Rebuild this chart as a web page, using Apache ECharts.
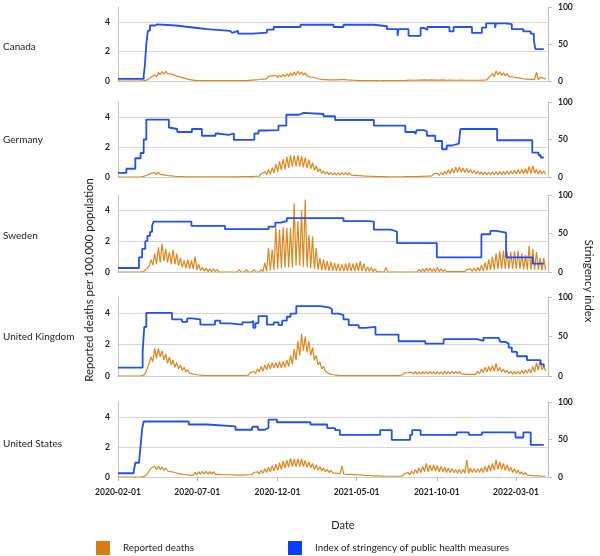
<!DOCTYPE html>
<html><head><meta charset="utf-8">
<script src="https://cdn.jsdelivr.net/npm/echarts@6/dist/echarts.min.js"></script>
<style>html,body{margin:0;padding:0;background:#fff}#chart{width:600px;height:556px}</style>
</head><body><div id="chart"></div><script>
// ---------- DATA ----------
const countries = ['Canada', 'Germany', 'Sweden', 'United Kingdom', 'United States'];
const xTickLabels = ['2020-02-01', '2020-07-01', '2020-12-01', '2021-05-01', '2021-10-01', '2022-03-01'];
const leftTickLabels = [0, 2, 4];
const rightTickLabels = [0, 50, 100];
const deathsName = 'Reported deaths';
const stringencyName = 'Index of stringency of public health measures';
const leftTitle = 'Reported deaths per 100,000 population';
const rightTitle = 'Stringency index';
const xTitle = 'Date';

// Reported deaths per 100,000: one value every 3.5 days from 2020-02-01 (weekly high / low)
const deathsCanada = [
0,0, 0,0, 0,0, 0,0, 0,0, 0,0, 0,0, 0.03,0.01, 0.07,0.03, 0.25,0.15,
0.42,0.28, 0.58,0.42, 0.63,0.47, 0.65,0.5, 0.62,0.48, 0.52,0.38, 0.4,0.3, 0.33,0.23, 0.24,0.16, 0.15,0.09,
0.1,0.06, 0.05,0.03, 0.04,0.02, 0.05,0.03, 0.04,0.02, 0.05,0.02, 0.04,0.02, 0.05,0.03, 0.04,0.02, 0.05,0.02,
0.04,0.02, 0.05,0.03, 0.05,0.02, 0.06,0.03, 0.06,0.03, 0.07,0.04, 0.1,0.06, 0.12,0.08, 0.16,0.1, 0.21,0.13,
0.25,0.15, 0.31,0.19, 0.34,0.22, 0.37,0.23, 0.4,0.26, 0.46,0.3, 0.49,0.31, 0.55,0.35, 0.6,0.4, 0.66,0.44,
0.6,0.4, 0.55,0.35, 0.43,0.27, 0.36,0.24, 0.25,0.15, 0.19,0.11, 0.15,0.09, 0.13,0.07, 0.13,0.07, 0.13,0.07,
0.15,0.09, 0.15,0.09, 0.13,0.07, 0.1,0.06, 0.09,0.05, 0.07,0.03, 0.05,0.02, 0.04,0.02, 0.04,0.02, 0.03,0.02,
0.04,0.02, 0.03,0.01, 0.04,0.02, 0.03,0.02, 0.04,0.02, 0.04,0.02, 0.05,0.03, 0.07,0.03, 0.08,0.04, 0.1,0.06,
0.11,0.05, 0.14,0.06, 0.12,0.06, 0.15,0.07, 0.13,0.06, 0.16,0.07, 0.14,0.06, 0.13,0.06, 0.15,0.07, 0.12,0.05,
0.13,0.06, 0.12,0.05, 0.11,0.05, 0.13,0.06, 0.12,0.05, 0.11,0.05, 0.12,0.05, 0.11,0.05, 0.12,0.05, 0.13,0.06,
0.15,0.07, 0.25,0.15, 0.5,0.3, 0.68,0.42, 0.62,0.38, 0.55,0.35, 0.5,0.3, 0.43,0.27, 0.37,0.23, 0.31,0.19,
0.25,0.15, 0.23,0.13, 0.19,0.11, 0.19,0.11, 0.6,0.08, 0.25,0.12, 0.2,0.1
];
const deathsGermany = [
0,0, 0,0, 0,0, 0,0, 0,0, 0,0, 0,0, 0.04,0.02, 0.13,0.07, 0.24,0.12,
0.3,0.16, 0.32,0.18, 0.27,0.14, 0.2,0.1, 0.16,0.08, 0.11,0.05, 0.07,0.03, 0.04,0.02, 0.03,0.01, 0.03,0.01,
0.03,0.01, 0.02,0.01, 0.02,0.01, 0.02,0.01, 0.02,0.01, 0.02,0.01, 0.02,0.01, 0.02,0.01, 0.02,0.01, 0.03,0.01,
0.03,0.01, 0.03,0.01, 0.03,0.01, 0.04,0.02, 0.04,0.02, 0.05,0.03, 0.07,0.03, 0.11,0.05, 0.14,0.06, 0.21,0.09,
0.35,0.15, 0.5,0.2, 0.63,0.27, 0.85,0.35, 1.05,0.45, 1.2,0.5, 1.35,0.6, 1.45,0.7, 1.45,0.7, 1.45,0.7,
1.4,0.65, 1.3,0.6, 1.15,0.55, 0.95,0.45, 0.75,0.35, 0.55,0.25, 0.4,0.2, 0.34,0.16, 0.3,0.14, 0.28,0.12,
0.28,0.12, 0.3,0.14, 0.3,0.14, 0.28,0.12, 0.25,0.11, 0.21,0.09, 0.17,0.07, 0.14,0.06, 0.11,0.05, 0.08,0.04,
0.05,0.02, 0.04,0.02, 0.04,0.02, 0.04,0.01, 0.04,0.01, 0.03,0.01, 0.03,0.01, 0.04,0.01, 0.04,0.02, 0.05,0.02,
0.05,0.02, 0.07,0.03, 0.08,0.04, 0.11,0.05, 0.14,0.06, 0.17,0.07, 0.21,0.09, 0.25,0.11, 0.3,0.14, 0.38,0.18,
0.48,0.22, 0.57,0.27, 0.65,0.31, 0.65,0.33, 0.6,0.3, 0.56,0.28, 0.5,0.26, 0.43,0.21, 0.38,0.18, 0.34,0.16,
0.32,0.14, 0.33,0.14, 0.35,0.15, 0.36,0.16, 0.36,0.16, 0.37,0.17, 0.4,0.18, 0.42,0.2, 0.45,0.21, 0.5,0.22,
0.5,0.22, 0.55,0.22, 0.7,0.22, 0.75,0.25, 0.5,0.2, 0.45,0.2, 0.4,0.18
];
const deathsSweden = [
0,0, 0,0, 0,0, 0,0, 0,0, 0,0, 0,0, 0.03,0.1, 0.25,0.4, 0.8,0.45,
1.2,0.5, 1.6,0.6, 1.85,0.7, 1.5,0.6, 1.3,0.5, 1.45,0.5, 1.2,0.4, 0.9,0.3, 0.75,0.25, 0.8,0.2,
0.75,0.2, 1.0,0.15, 0.5,0.1, 0.3,0.05, 0.25,0.03, 0.2,0.02, 0.2,0.02, 0.15,0.01, 0.1,0, 0.12,0,
0.08,0, 0.12,0, 0.1,0, 0.15,0, 0.1,0, 0.15,0, 0.12,0, 0.15,0, 0.1,0, 0.15,0.02,
0.6,0.05, 1.55,0.1, 1.45,0.15, 2.9,0.2, 2.75,0.25, 2.9,0.3, 2.85,0.3, 2.85,0.3, 4.45,0.4, 3.3,0.4,
4.0,0.35, 4.7,0.3, 2.4,0.25, 2.3,0.2, 1.55,0.15, 0.9,0.1, 0.8,0.1, 0.7,0.08, 0.65,0.08, 0.6,0.08,
0.55,0.06, 0.5,0.06, 0.55,0.06, 0.6,0.06, 0.55,0.06, 0.6,0.06, 0.7,0.05, 0.55,0.04, 0.35,0.03, 0.3,0.02,
0.2,0.02, 0.1,0.01, 0.1,0, 0.3,0, 0.05,0, 0.05,0, 0.05,0, 0.05,0, 0.05,0, 0.05,0,
0.05,0, 0.1,0, 0.15,0.02, 0.2,0.02, 0.25,0.03, 0.25,0.03, 0.2,0.03, 0.3,0.03, 0.2,0.02, 0.15,0.02,
0.12,0.02, 0.1,0.02, 0.1,0.02, 0.1,0.02, 0.12,0.02, 0.15,0.03, 0.2,0.04, 0.25,0.05, 0.3,0.06, 0.45,0.08,
0.6,0.1, 0.8,0.12, 1.0,0.15, 1.2,0.2, 1.35,0.2, 1.4,0.2, 1.35,0.2, 1.3,0.2, 1.35,0.2, 1.4,0.2,
1.2,0.15, 1.1,0.15, 1.7,0.15, 1.5,0.15, 1.3,0.15, 0.9,0.1, 0.9,0.1
];
const deathsUK = [
0,0, 0,0, 0,0, 0,0, 0,0, 0,0, 0,0, 0.05,0.2, 0.5,0.8, 1.2,0.9,
1.75,1.1, 1.75,1.2, 1.6,1.0, 1.4,0.8, 1.2,0.7, 1.0,0.55, 0.85,0.45, 0.7,0.35, 0.55,0.25, 0.4,0.18,
0.3,0.12, 0.2,0.08, 0.15,0.06, 0.1,0.04, 0.07,0.03, 0.06,0.02, 0.06,0.02, 0.05,0.02, 0.05,0.02, 0.05,0.02,
0.05,0.02, 0.06,0.02, 0.06,0.02, 0.07,0.03, 0.09,0.04, 0.13,0.06, 0.2,0.1, 0.3,0.15, 0.45,0.25, 0.6,0.3,
0.7,0.4, 0.8,0.45, 0.85,0.5, 0.85,0.5, 0.9,0.5, 0.9,0.55, 1.0,0.6, 1.3,0.75, 1.7,1.0, 2.2,1.3,
2.65,1.6, 2.5,1.5, 2.2,1.3, 1.8,1.0, 1.3,0.7, 0.9,0.45, 0.6,0.3, 0.35,0.15, 0.2,0.08, 0.12,0.05,
0.06,0.02, 0.05,0.02, 0.05,0.02, 0.04,0.02, 0.04,0.02, 0.04,0.02, 0.05,0.02, 0.04,0.02, 0.04,0.02, 0.04,0.02,
0.04,0.02, 0.05,0.02, 0.05,0.02, 0.05,0.02, 0.06,0.02, 0.07,0.03, 0.1,0.04, 0.15,0.07, 0.2,0.1, 0.22,0.1,
0.25,0.12, 0.27,0.12, 0.26,0.12, 0.28,0.13, 0.27,0.12, 0.29,0.13, 0.27,0.12, 0.28,0.13, 0.26,0.12, 0.3,0.14,
0.28,0.13, 0.3,0.15, 0.3,0.15, 0.28,0.13, 0.25,0.12, 0.22,0.1, 0.2,0.1, 0.22,0.1, 0.3,0.15, 0.45,0.2,
0.55,0.25, 0.6,0.3, 0.65,0.3, 0.8,0.3, 0.55,0.25, 0.45,0.2, 0.35,0.15, 0.3,0.12, 0.3,0.12, 0.3,0.12,
0.35,0.15, 0.4,0.18, 0.45,0.2, 0.6,0.25, 0.85,0.35, 1.0,0.4, 0.6,0.3
];
const deathsUS = [
0,0, 0,0, 0,0, 0,0, 0,0, 0,0, 0,0, 0.02,0.08, 0.2,0.4, 0.6,0.5,
0.7,0.5, 0.72,0.5, 0.65,0.45, 0.6,0.4, 0.5,0.35, 0.45,0.3, 0.35,0.22, 0.3,0.18, 0.25,0.15, 0.2,0.12,
0.22,0.12, 0.3,0.15, 0.35,0.2, 0.38,0.2, 0.38,0.2, 0.35,0.2, 0.35,0.18, 0.3,0.17, 0.28,0.15, 0.28,0.15,
0.25,0.15, 0.25,0.14, 0.22,0.13, 0.22,0.13, 0.24,0.14, 0.25,0.15, 0.28,0.16, 0.3,0.18, 0.35,0.2, 0.45,0.25,
0.55,0.3, 0.65,0.35, 0.75,0.4, 0.85,0.45, 0.95,0.5, 1.05,0.6, 1.1,0.65, 1.25,0.7, 1.2,0.7, 1.2,0.7,
1.2,0.7, 1.1,0.65, 1.0,0.6, 0.9,0.5, 0.8,0.45, 0.7,0.4, 0.6,0.35, 0.5,0.3, 0.45,0.28, 0.4,0.25,
0.38,0.22, 0.72,0.2, 0.3,0.18, 0.3,0.17, 0.28,0.16, 0.25,0.15, 0.22,0.12, 0.2,0.1, 0.18,0.1, 0.15,0.08,
0.12,0.07, 0.1,0.06, 0.1,0.05, 0.1,0.05, 0.08,0.05, 0.08,0.05, 0.1,0.05, 0.15,0.07, 0.22,0.1, 0.3,0.15,
0.4,0.2, 0.5,0.25, 0.6,0.3, 0.7,0.35, 0.9,0.35, 0.8,0.4, 0.8,0.4, 0.75,0.35, 0.7,0.35, 0.65,0.3,
0.6,0.3, 0.55,0.28, 0.5,0.25, 0.5,0.25, 0.5,0.25, 1.15,0.25, 0.6,0.3, 0.55,0.3, 0.55,0.3, 0.6,0.3,
0.7,0.35, 0.8,0.4, 0.9,0.45, 1.15,0.5, 1.0,0.5, 0.9,0.45, 0.8,0.4, 0.65,0.3, 0.55,0.25, 0.45,0.2,
0.35,0.15, 0.3,0.12, 0.25,0.1, 0.2,0.08, 0.18,0.07, 0.15,0.05, 0.12,0.05
];

// Stringency index change points: [days since 2020-02-01, index value]
const stringencyCanada = [[0,2.8],[49,8],[51,19],[54,50],[57,68],[61,75],[71,76.6],[75,75],[110,74],[122,71.6],[151,70],[170,67.6],[214,65],[218,67.6],[229,64],[256,65.3],[284,69.4],[297,73],[348,76],[411,73],[430,76],[488,74],[513,70],[533,61],[535,70],[554,61],[577,71.6],[584,69],[590,73],[632,67],[640,73],[675,65],[694,72],[702,78],[719,72],[721,78],[739,77],[751,70],[773,67],[787,64],[793,55],[796,43],[812,43]];
const stringencyGermany = [[0,5.5],[16,11],[33,25],[43,32],[49,50],[54,76.6],[97,66],[100,64],[113,60],[141,64],[160,55],[186,58],[190,56.3],[211,58],[221,49.5],[260,58],[268,62],[280,62.6],[306,68.5],[321,83],[345,85.6],[354,84],[392,81],[414,76],[488,68.5],[548,60],[567,57],[570,62.6],[583,61],[589,55],[605,48],[618,37],[627,42],[637,44.6],[650,46],[653,64],[723,49],[790,32.4],[802,29],[806,26],[812,26]];
const stringencySweden = [[0,5.2],[40,19],[46,30],[52,40],[56,47],[61,52],[65,60],[68,65.5],[140,60],[204,55.6],[287,59],[300,64],[310,66],[322,70],[430,66],[478,65.5],[488,55],[520,52.6],[532,37.5],[608,19],[693,49],[710,53.4],[721,51],[740,19],[791,10.8],[812,10.8]];
const stringencyUK = [[0,10.6],[47,30.5],[50,62],[54,80],[103,71.6],[122,68.6],[132,72.9],[141,71.6],[157,65],[185,70],[195,66.5],[214,65],[237,67.8],[253,69.5],[258,61],[262,67],[268,75.8],[284,65],[297,67.8],[306,64.4],[313,70],[322,75],[329,79],[340,88.5],[386,86.9],[402,84.7],[408,79],[421,77],[430,71.6],[440,64.4],[459,61],[472,62.3],[491,52.5],[535,44],[586,41],[621,46.6],[685,44.5],[697,48.3],[726,46.6],[729,43.2],[739,41],[745,36],[751,30.5],[761,25],[780,20],[806,14.8],[812,11.4]];
const stringencyUS = [[0,5],[30,7.7],[33,19],[40,21],[43,41],[46,64],[49,74],[135,70],[170,67.6],[224,63],[256,67],[267,63],[280,65.3],[287,76.6],[303,73],[367,70],[399,65.3],[414,62.6],[423,56.3],[460,54],[463,56.3],[500,62.6],[522,49.5],[557,56.3],[561,62.6],[577,56.3],[646,59.5],[669,56.3],[694,59.5],[758,52.7],[773,59.5],[787,42.8],[812,42.8]];

const deathsByCountry = [deathsCanada, deathsGermany, deathsSweden, deathsUK, deathsUS];
const stringencyByCountry = [stringencyCanada, stringencyGermany, stringencySweden, stringencyUK, stringencyUS];

// ---------- LAYOUT / STYLE ----------
const DAY = 86400000;
const START = Date.UTC(2020, 1, 1);
const END = Date.UTC(2022, 4, 1);
const SAMPLE_DAYS = 3.5;
const FONT = 'Lato, "Noto Sans", sans-serif';
const ORANGE = '#e0861a';
const BLUE = '#1f4fff';
const TEXT = '#1e1e1e';
const panelTops = [7, 102, 195, 297, 402];
const panelHeights = [74, 75, 77, 79, 75];
const labelY = [48, 141, 237, 338, 445];

function parseDate(s) { const p = s.split('-').map(Number); return Date.UTC(p[0], p[1] - 1, p[2]); }
const xTickValues = xTickLabels.map(parseDate);

const tickFont = { color: '#222', fontSize: 8.5, fontWeight: 'bold', fontFamily: FONT };

const grid = [], xAxis = [], yAxis = [], series = [];
countries.forEach((c, i) => {
  const last = i === countries.length - 1;
  grid.push({ left: 118, right: 52, top: panelTops[i], height: panelHeights[i] });
  xAxis.push({
    type: 'value', gridIndex: i, min: START, max: END,
    axisLine: { show: true, lineStyle: { color: '#d0d0d0', width: 1 } },
    axisTick: { show: last, customValues: xTickValues, length: 4, lineStyle: { color: '#b5b5b5' } },
    axisLabel: Object.assign({
      show: last, customValues: xTickValues, margin: 11,
      formatter: v => { const k = xTickValues.findIndex(t => Math.abs(t - v) < DAY / 2); return k >= 0 ? xTickLabels[k] : ''; }
    }, tickFont),
    splitLine: { show: false }
  });
  yAxis.push({
    type: 'value', gridIndex: i, position: 'left', min: 0, max: 5, interval: 2,
    axisLine: { show: true, lineStyle: { color: '#c8c8c8' } },
    axisTick: { show: false },
    axisLabel: Object.assign({ margin: 8,
      formatter: v => leftTickLabels.indexOf(v) >= 0 ? String(v) : '' }, tickFont),
    splitLine: { show: true, showMinLine: false, showMaxLine: false, lineStyle: { color: '#d6d6d6', width: 1 } }
  });
  yAxis.push({
    type: 'value', gridIndex: i, position: 'right', min: 0, max: 100, interval: 50,
    axisLine: { show: true, lineStyle: { color: '#bdbdbd' } },
    axisTick: { show: true, length: 4, lineStyle: { color: '#bdbdbd' } },
    axisLabel: Object.assign({ margin: 10,
      formatter: v => rightTickLabels.indexOf(v) >= 0 ? String(v) : '' }, tickFont),
    splitLine: { show: false }
  });
  series.push({
    type: 'line', name: deathsName, xAxisIndex: i, yAxisIndex: 2 * i,
    data: deathsByCountry[i].map((v, k) => [START + k * SAMPLE_DAYS * DAY, v]),
    showSymbol: false, symbol: 'none', animation: false, z: 2,
    lineStyle: { width: 1.2, color: ORANGE }, itemStyle: { color: ORANGE }
  });
  series.push({
    type: 'line', name: stringencyName, xAxisIndex: i, yAxisIndex: 2 * i + 1, step: 'end',
    data: stringencyByCountry[i].map(p => [START + p[0] * DAY, p[1]]),
    showSymbol: false, symbol: 'none', animation: false, z: 3,
    lineStyle: { width: 1.8, color: BLUE }, itemStyle: { color: BLUE }
  });
});

const graphic = countries.map((c, i) => ({
  type: 'text', left: 3, top: labelY[i] - 6,
  style: { text: c, font: '10px ' + FONT, fill: TEXT }
}));
graphic.push({ type: 'text', x: 89, y: 280, rotation: Math.PI / 2,
  style: { text: leftTitle, font: '11.4px ' + FONT, fill: TEXT, align: 'center', verticalAlign: 'middle' } });
graphic.push({ type: 'text', x: 589, y: 281, rotation: -Math.PI / 2,
  style: { text: rightTitle, font: '11.4px ' + FONT, fill: TEXT, align: 'center', verticalAlign: 'middle' } });
graphic.push({ type: 'text', x: 343, y: 525,
  style: { text: xTitle, font: '11px ' + FONT, fill: TEXT, align: 'center', verticalAlign: 'middle' } });

const legendCommon = { top: 541, padding: 0, icon: 'rect', itemWidth: 14, itemHeight: 14, selectedMode: false,
  textStyle: { color: TEXT, fontSize: 9.8, fontFamily: FONT, padding: [0, 0, 0, 8] } };

const chart = echarts.init(document.getElementById('chart'), null, { renderer: 'canvas' });
chart.setOption({
  animation: false,
  backgroundColor: '#ffffff',
  grid, xAxis, yAxis, series, graphic,
  legend: [
    Object.assign({}, legendCommon, { left: 96, data: [{ name: deathsName, itemStyle: { color: '#d67c10' } }] }),
    Object.assign({}, legendCommon, { left: 288, data: [{ name: stringencyName, itemStyle: { color: '#0b3dff' } }] })
  ]
});
</script></body></html>
